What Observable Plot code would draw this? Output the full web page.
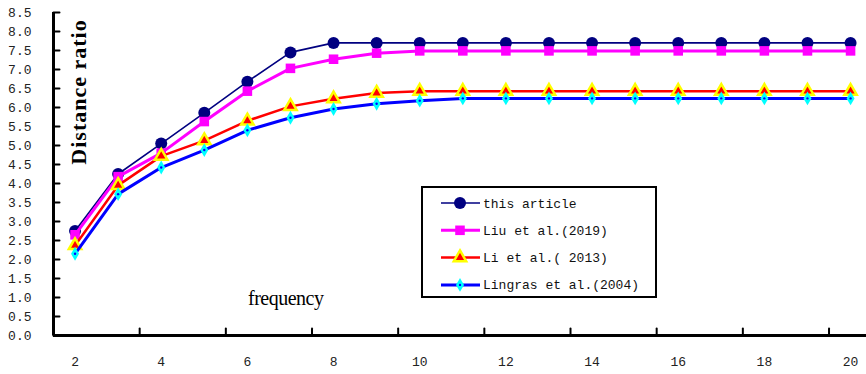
<!DOCTYPE html>
<html><head><meta charset="utf-8">
<script src="https://cdn.jsdelivr.net/npm/d3@7"></script>
<script src="https://cdn.jsdelivr.net/npm/@observablehq/plot@0.6"></script>
<style>
body{margin:0;background:#fff;}
#wrap{position:relative;width:866px;height:374px;overflow:hidden;}
#ylab{position:absolute;left:79px;top:92px;transform:translate(-50%,-50%) rotate(-90deg);font:bold 22px "Liberation Serif";letter-spacing:1px;white-space:nowrap;color:#000;}
#xlab{position:absolute;left:248px;top:287px;font:20px "Liberation Serif";letter-spacing:-0.5px;white-space:nowrap;color:#000;}
#legend{position:absolute;left:421px;top:186px;}
</style></head><body><div id="wrap"></div>
<script>
const frequency = [2,3,4,5,6,7,8,9,10,11,12,13,14,15,16,17,18,19,20];
const thisArticle = [2.75,4.25,5.05,5.86,6.68,7.45,7.70,7.70,7.70,7.70,7.70,7.70,7.70,7.70,7.70,7.70,7.70,7.70,7.70];
const liu2019 = [2.65,4.18,4.80,5.63,6.43,7.03,7.27,7.43,7.49,7.49,7.49,7.49,7.49,7.49,7.49,7.49,7.49,7.49,7.49];
const li2013 = [2.37,3.95,4.72,5.13,5.65,6.03,6.23,6.38,6.43,6.43,6.43,6.43,6.43,6.43,6.43,6.43,6.43,6.43,6.43];
const lingras2004 = [2.15,3.72,4.42,4.88,5.40,5.73,5.96,6.10,6.18,6.24,6.24,6.24,6.24,6.24,6.24,6.24,6.24,6.24,6.24];
const seriesNames = ["this article","Liu et al.(2019)","Li et al.( 2013)","Lingras et al.(2004)"];
const yTicks = [0,0.5,1,1.5,2,2.5,3,3.5,4,4.5,5,5.5,6,6.5,7,7.5,8,8.5];
const xTickLabels = [2,4,6,8,10,12,14,16,18,20];
const xTickMarks = [1.5,3.5,5.5,7.5,9.5,11.5,13.5,15.5,17.5,19.5];

const rows = (vals) => frequency.map((f,i)=>({f, v: vals[i]}));
const lineShape = {draw(ctx, l){ctx.moveTo(0,0); ctx.lineTo(0,-l);}};
const mono = "Liberation Mono";

const chart = Plot.plot({
  width: 866, height: 374,
  marginLeft: 53, marginRight: 0, marginTop: 12, marginBottom: 39,
  x: {domain: [frequency[0]-0.5, 20.37], axis: null},
  y: {domain: [0, 8.5], axis: null},
  style: {background: "#fff", color: "#000"},
  marks: [
    Plot.line(rows(thisArticle), {x:"f", y:"v", stroke:"#000080", strokeWidth:1.6}),
    Plot.dot(rows(thisArticle), {x:"f", y:"v", symbol:"circle", r:6, fill:"#000080", stroke:"none"}),
    Plot.line(rows(liu2019), {x:"f", y:"v", stroke:"#ff00ff", strokeWidth:3}),
    Plot.dot(rows(liu2019), {x:"f", y:"v", symbol:"square", r:5.4, fill:"#ff00ff", stroke:"none"}),
    Plot.line(rows(li2013), {x:"f", y:"v", stroke:"#ff0000", strokeWidth:2.5}),
    Plot.dot(rows(li2013), {x:"f", y:"v", symbol:"triangle", r:4.6, fill:"#ff0000", stroke:"#ffff00", strokeWidth:2.5}),
    Plot.line(rows(lingras2004), {x:"f", y:"v", stroke:"#0000ff", strokeWidth:3}),
    Plot.dot(rows(lingras2004), {x:"f", y:"v", symbol:"diamond", r:4.2, fill:"#00ffff", stroke:"none"}),
    Plot.dot(rows(lingras2004), {x:"f", y:"v", r:1.2, fill:"#0000ff", stroke:"none"}),
    Plot.ruleX([frequency[0]-0.5], {stroke:"#000", strokeWidth:3}),
    Plot.ruleY([0], {stroke:"#000", strokeWidth:3}),
    Plot.vector(yTicks, {y: d=>d, frameAnchor:"left", length:6, rotate:90, anchor:"start", shape: lineShape, stroke:"#000", strokeWidth:2}),
    Plot.vector(xTickMarks, {x: d=>d, frameAnchor:"bottom", length:7, rotate:0, anchor:"start", shape: lineShape, stroke:"#000", strokeWidth:2}),
    Plot.text(yTicks, {y: d=>d, frameAnchor:"left", dx:-22, textAnchor:"end", text: d=>d.toFixed(1), fontFamily: mono, fontSize:13, fill:"#222"}),
    Plot.text(xTickLabels, {x: d=>d, frameAnchor:"bottom", dy:26, lineAnchor:"middle", text: d=>String(d), fontFamily: mono, fontSize:13, fill:"#222"})
  ]
});
const wrap = document.getElementById("wrap");
wrap.appendChild(chart);

const yl = document.createElement("div"); yl.id="ylab"; yl.textContent="Distance ratio"; wrap.appendChild(yl);
const xl = document.createElement("div"); xl.id="xlab"; xl.textContent="frequency"; wrap.appendChild(xl);

const legW = 236, legH = 112;
const svg = d3.select(wrap).append("svg").attr("id","legend").attr("width", legW).attr("height", legH);
svg.append("rect").attr("x",1).attr("y",1).attr("width",legW-2).attr("height",legH-2).attr("fill","#fff").attr("stroke","#000").attr("stroke-width",2);
const legStyles = [
  {stroke:"#000080", sw:1.6, sym:d3.symbolCircle, r:6, fill:"#000080", ms:"none", msw:0},
  {stroke:"#ff00ff", sw:3, sym:d3.symbolSquare, r:5.4, fill:"#ff00ff", ms:"none", msw:0},
  {stroke:"#ff0000", sw:2.5, sym:d3.symbolTriangle, r:4.6, fill:"#ff0000", ms:"#ffff00", msw:2.5},
  {stroke:"#0000ff", sw:3, sym:d3.symbolDiamond, r:4.2, fill:"#00ffff", ms:"none", msw:0}
];
seriesNames.forEach((name,i)=>{
  const cy = 17 + i*27.3;
  const s = legStyles[i];
  const g = svg.append("g");
  g.append("line").attr("x1",20).attr("x2",59).attr("y1",cy).attr("y2",cy).attr("stroke",s.stroke).attr("stroke-width",s.sw);
  g.append("path").attr("transform",`translate(39,${cy})`).attr("d", d3.symbol(s.sym, Math.PI*s.r*s.r)()).attr("fill",s.fill).attr("stroke",s.ms).attr("stroke-width",s.msw);
  if (i===3) g.append("circle").attr("cx",39).attr("cy",cy).attr("r",1.2).attr("fill","#0000ff");
  g.append("text").attr("x",62).attr("y",cy).attr("dy","0.35em").attr("font-family",mono).attr("font-size",13).attr("fill","#111").text(name);
});
</script>
</body></html>
